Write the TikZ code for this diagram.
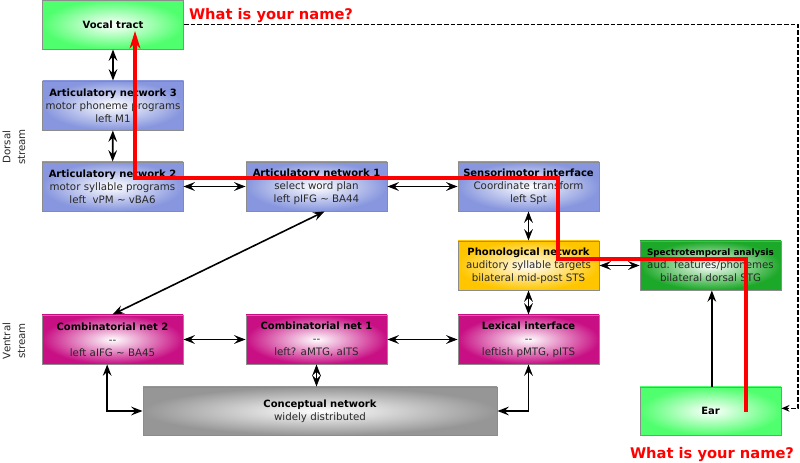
\documentclass[tikz,border=0pt]{standalone}
\usepackage{fontspec}
\setmainfont{DejaVu Sans}
\usetikzlibrary{arrows.meta,shadings}
\definecolor{artblue}{RGB}{135,150,222}
\definecolor{magen}{RGB}{200,16,132}
\definecolor{cgray}{RGB}{150,150,150}
\definecolor{phyel}{RGB}{255,198,0}
\definecolor{dgreen}{RGB}{28,168,40}
\definecolor{lgreen}{RGB}{80,255,110}
\definecolor{txtgray}{RGB}{40,40,40}
\newcommand\ttl[1]{{\fontsize{7.5}{9.75}\selectfont\bfseries\color{black}#1}}
\newcommand\ttlsmall[1]{{\fontsize{6.6}{9.75}\selectfont\bfseries\color{black}#1}}
\newcommand\dd{{-}{-}}
\tikzset{
  box/.style={draw=black!45, line width=0.7pt, inner color=white, outer color=#1,
    minimum width=105.75pt, minimum height=36.75pt, align=center, inner sep=1pt,
    text=txtgray, font=\fontsize{7.7}{9.75}\selectfont},
  conn/.style={line width=1.2pt, {Stealth[length=8.5pt,width=6.5pt,inset=3pt]}-{Stealth[length=8.5pt,width=6.5pt,inset=3pt]}},
  conn1/.style={line width=1.2pt, -{Stealth[length=8.5pt,width=6.5pt,inset=3pt]}},
  dashconn/.style={line width=1.2pt, dash pattern=on 3.5pt off 1.5pt, -{Stealth[length=6pt,width=5pt,inset=2pt]}},
  redpath/.style={line width=2.3pt, red, -{Stealth[length=13pt,width=8pt,inset=4pt]}},
  redtxt/.style={text=red, font=\fontsize{11}{13}\selectfont\bfseries, inner sep=0pt},
  streamlbl/.style={rotate=90, align=center, font=\fontsize{7.7}{11}\selectfont, text=txtgray, inner sep=0pt}
}
\begin{document}
\begin{tikzpicture}[x=0.75pt,y=-0.75pt]
\useasboundingbox (0,0) rectangle (800,463);
% nodes
\node[box=lgreen] (vt) at (113,24.5) {\ttl{Vocal tract}};
\node[box=artblue] (art3) at (113,105.5) {\ttl{Articulatory network 3}\\motor phoneme programs\\left M1};
\node[box=artblue] (art2) at (112.5,186.5) {\ttl{Articulatory network 2}\\motor syllable programs\\left\ \ vPM \textasciitilde\ vBA6};
\node[box=artblue] (art1) at (316.5,186.5) {\ttl{Articulatory network 1}\\select word plan\\left pIFG \textasciitilde\ BA44};
\node[box=artblue] (smi) at (528.5,186.5) {\ttl{Sensorimotor interface}\\Coordinate transform\\left Spt};
\node[box=phyel] (phon) at (528.5,265.5) {\ttl{Phonological network}\\auditory syllable targets\\bilateral mid-post STS};
\node[box=dgreen] (spec) at (710.5,265.5) {\ttlsmall{Spectrotemporal analysis}\\aud. features/phonemes\\bilateral dorsal STG};
\node[box=magen] (comb2) at (112.5,339.5) {\ttl{Combinatorial net 2}\\\dd\\left aIFG \textasciitilde\ BA45};
\node[box=magen] (comb1) at (316.5,339.5) {\ttl{Combinatorial net 1}\\\dd\\left? aMTG, aITS};
\node[box=magen] (lex) at (528.5,339.5) {\ttl{Lexical interface}\\\dd\\leftish pMTG, pITS};
\node[box=cgray, minimum width=265.5pt, minimum height=36pt] (concept) at (320,411) {\ttl{Conceptual network}\\widely distributed};
\node[box=lgreen, minimum height=36pt] (ear) at (710.5,411) {\ttl{Ear}};
% labels
\node[streamlbl] (dorsal) at (14,147) {Dorsal\\stream};
\node[streamlbl] (ventral) at (14,341) {Ventral\\stream};
\node[redtxt] (q1) at (271,16) {What is your name?};
\node[redtxt] (q2) at (712,455) {What is your name?};
% connectors
\draw[conn] (vt) -- (art3);
\draw[conn] (art3) -- (art2);
\draw[conn] (art2) -- (art1);
\draw[conn] (art1) -- (smi);
\draw[conn] (smi) -- (phon);
\draw[conn] (phon) -- (spec);
\draw[conn] (phon) -- (lex);
\draw[conn] (comb2) -- (comb1);
\draw[conn] (comb1) -- (lex);
\draw[conn] (comb1.south) -- (comb1.south |- concept.north);
\draw[conn] ([xshift=6pt]art1.south) -- (comb2.north);
\draw[conn] ([xshift=-4pt]comb2.south) |- (concept.west);
\draw[conn] (lex.south) |- (concept.east);
\draw[conn1] ([xshift=1pt]ear.north) -- ([xshift=1pt]spec.south);
\coordinate (dr) at (798,24.5);
\draw[dashconn] (vt.east) -- (dr) |- ([yshift=2pt]ear.east);
% red path
\coordinate (r0) at (746,412);
\coordinate (r1) at (746,259);
\coordinate (r2) at (558,259);
\coordinate (r3) at (558,178);
\coordinate (r4) at (135,178);
\coordinate (r5) at (135,31);
\draw[redpath] (r0) -- (r1) -- (r2) -- (r3) -- (r4) -- (r5);
\end{tikzpicture}
\end{document}
